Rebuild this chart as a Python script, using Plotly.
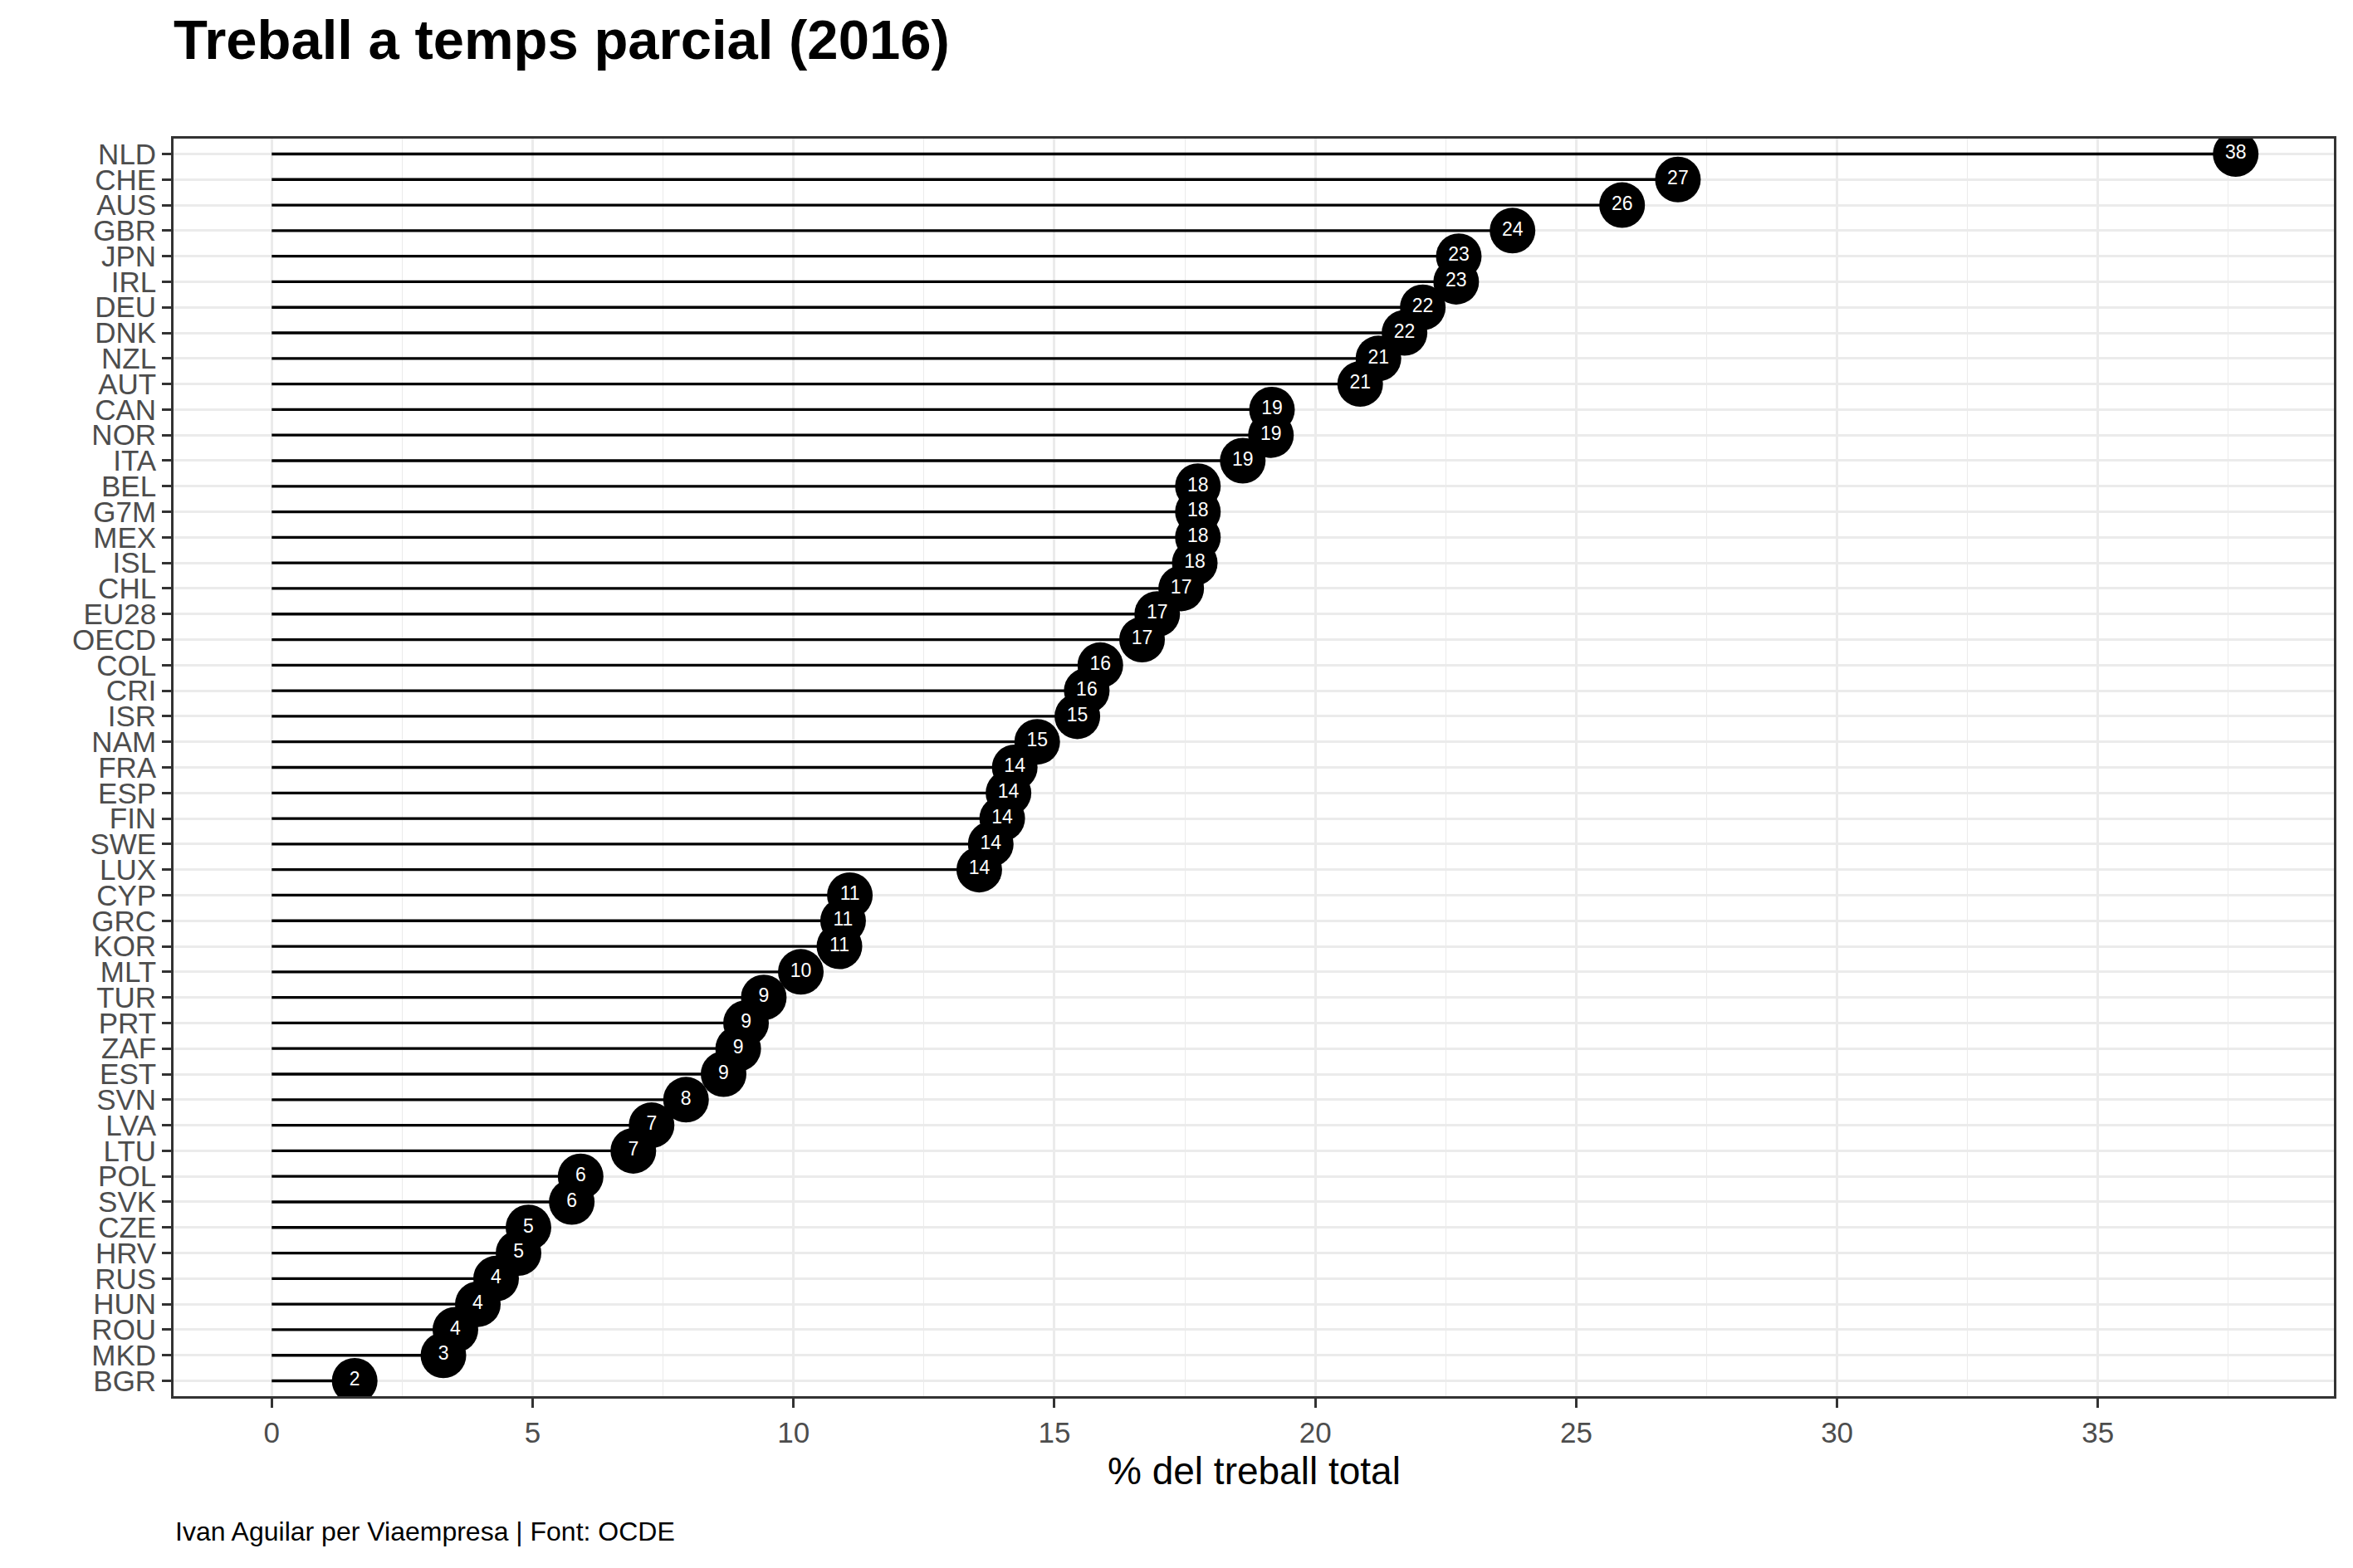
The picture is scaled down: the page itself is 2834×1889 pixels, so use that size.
import plotly.graph_objects as go

countries = ["NLD", "CHE", "AUS", "GBR", "JPN", "IRL", "DEU", "DNK", "NZL", "AUT",
             "CAN", "NOR", "ITA", "BEL", "G7M", "MEX", "ISL", "CHL", "EU28", "OECD",
             "COL", "CRI", "ISR", "NAM", "FRA", "ESP", "FIN", "SWE", "LUX", "CYP",
             "GRC", "KOR", "MLT", "TUR", "PRT", "ZAF", "EST", "SVN", "LVA", "LTU",
             "POL", "SVK", "CZE", "HRV", "RUS", "HUN", "ROU", "MKD", "BGR"]
values = [37.64, 26.95, 25.88, 23.78, 22.75, 22.70, 22.06, 21.71, 21.21, 20.86,
          19.17, 19.15, 18.61, 17.75, 17.75, 17.75, 17.69, 17.43, 16.97, 16.68,
          15.88, 15.62, 15.44, 14.67, 14.24, 14.12, 14.00, 13.78, 13.56, 11.08,
          10.95, 10.88, 10.14, 9.43, 9.09, 8.94, 8.66, 7.94, 7.28, 6.93,
          5.92, 5.75, 4.92, 4.73, 4.30, 3.95, 3.52, 3.29, 1.59]
labels = [str(int(round(v))) for v in values]
x_ticks = [0, 5, 10, 15, 20, 25, 30, 35]

FONT = "Liberation Sans, Arial, sans-serif"
GRID = "#EBEBEB"

seg_x, seg_y = [], []
for c, v in zip(countries, values):
    seg_x += [0, v, None]
    seg_y += [c, c, None]

fig = go.Figure()
fig.add_trace(go.Scatter(x=seg_x, y=seg_y, mode="lines",
                         line=dict(color="black", width=3.3),
                         hoverinfo="skip", showlegend=False))
fig.add_trace(go.Scatter(x=values, y=countries, mode="markers",
                         marker=dict(color="black", size=55, line=dict(width=0)),
                         showlegend=False))
fig.add_trace(go.Scatter(x=values, y=countries, mode="text", text=labels,
                         textposition="middle center",
                         textfont=dict(color="white", size=23, family=FONT),
                         showlegend=False))

vmax = max(values)
fig.update_layout(
    width=2834, height=1889,
    margin=dict(l=209, r=23, t=167, b=207),
    paper_bgcolor="white", plot_bgcolor="white",
    font=dict(family=FONT, color="#4D4D4D"),
    title=dict(text="<b>Treball a temps parcial (2016)</b>",
               font=dict(size=67, color="black", family=FONT),
               x=209 / 2834, xanchor="left", xref="container",
               y=1 - 48 / 1889, yanchor="middle", yref="container"),
    xaxis=dict(range=[-0.05 * vmax, 1.05 * vmax], tickmode="array", tickvals=x_ticks,
               ticks="outside", ticklen=11, tickwidth=2.7, tickcolor="#333333",
               tickfont=dict(size=35, color="#4D4D4D", family=FONT),
               showgrid=True, gridcolor=GRID, gridwidth=2.7,
               minor=dict(dtick=2.5, tick0=0, showgrid=True, gridcolor=GRID, gridwidth=1.4),
               zeroline=False, showline=True, mirror=True,
               linecolor="#333333", linewidth=2.7),
    yaxis=dict(type="category", categoryorder="array",
               categoryarray=countries[::-1], range=[-0.6, len(countries) - 0.4],
               tickmode="array", tickvals=countries, ticktext=countries,
               ticks="outside", ticklen=11, tickwidth=2.7, tickcolor="#333333",
               tickfont=dict(size=35, color="#4D4D4D", family=FONT),
               showgrid=True, gridcolor=GRID, gridwidth=2.7,
               zeroline=False, showline=True, mirror=True,
               linecolor="#333333", linewidth=2.7),
    annotations=[
        dict(text="% del treball total", xref="paper", yref="paper",
             x=0.5, y=-(1772 - 1682) / 1515, xanchor="center", yanchor="middle",
             showarrow=False, font=dict(size=46, color="black", family=FONT)),
        dict(text="Ivan Aguilar per Viaempresa | Font: OCDE", xref="paper", yref="paper",
             x=0, y=-(1845 - 1682) / 1515, xanchor="left", yanchor="middle",
             showarrow=False, font=dict(size=32, color="black", family=FONT)),
    ],
)
fig.write_html("out.html")
